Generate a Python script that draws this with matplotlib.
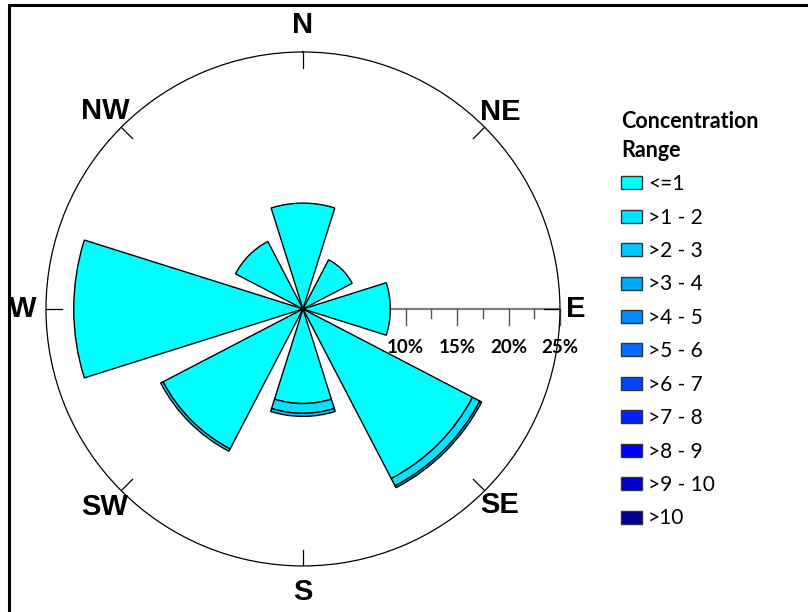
import numpy as np
import matplotlib
matplotlib.use("Agg")
import matplotlib.pyplot as plt
from matplotlib.patches import Patch, Rectangle

# wind directions (degrees clockwise from north)
directions = ["N", "NE", "E", "SE", "S", "SW", "W", "NW"]
dir_angles = [0, 45, 90, 135, 180, 225, 270, 315]

# frequency (%) of each concentration class per direction
ranges = ["<=1", ">1 - 2", ">2 - 3", ">3 - 4", ">4 - 5", ">5 - 6",
          ">6 - 7", ">7 - 8", ">8 - 9", ">9 - 10", ">10"]
freq_le1 = [10.3, 5.4, 8.5, 18.6, 9.2, 15.35, 22.3, 7.4]
freq_1_2 = [0, 0, 0, 0.8, 0.95, 0.25, 0, 0]
freq_2_3 = [0, 0, 0, 0.2, 0.3, 0, 0, 0]
freq_rest = [0] * 8
freqs = [freq_le1, freq_1_2, freq_2_3] + [freq_rest] * 8

colors = ["#00FFFF", "#00E4FF", "#00CCFF", "#00AAFF", "#008CFF", "#006EFF",
          "#0048FF", "#0022FF", "#0000FF", "#0000CC", "#00009A"]

radial_ticks = [10, 12.5, 15, 17.5, 20, 22.5, 25]
radial_labels = {10: "10%", 15: "15%", 20: "20%", 25: "25%"}

RMAX = 25
PX_PER_PCT = 257 / RMAX
label_r = [27.6, 27.1, 26.5, 27.0, 27.5, 27.3, 27.3, 27.2]

fig = plt.figure(figsize=(8.08, 6.12), dpi=100)
ax = fig.add_axes([0.0569, 0.0752, 0.6361, 0.8399], projection="polar")
ax.set_theta_zero_location("N")
ax.set_theta_direction(-1)
ax.set_ylim(0, RMAX)
ax.grid(False)
ax.set_xticks([])
ax.set_yticks([])
ax.spines["polar"].set_linewidth(0.9)

theta = np.deg2rad(dir_angles)
width = np.deg2rad(35)

# radial scale along the east axis
ax.plot([np.pi / 2, np.pi / 2], [0, RMAX], color="#808080", lw=1.6, zorder=1)
for v in radial_ticks:
    d = (16 if v in radial_labels else 9) / PX_PER_PCT
    ax.plot([np.pi / 2, np.pi / 2 + np.arctan(d / v)], [v, np.hypot(v, d)],
            color="#555555", lw=1.0, zorder=1, clip_on=False)
    if v in radial_labels:
        off = 39 / PX_PER_PCT
        ax.text(np.pi / 2 + np.arctan(off / v), np.hypot(v, off), radial_labels[v],
                ha="center", va="center", fontsize=13.5, fontweight="bold",
                family="Lato", zorder=5)

# stacked sectors
bottom = np.zeros(len(directions))
for vals, c in zip(freqs, colors):
    vals = np.array(vals, dtype=float)
    m = vals > 0
    if m.any():
        ax.bar(theta[m], vals[m], width=width, bottom=bottom[m], color=c,
               edgecolor="black", linewidth=1.0, zorder=3)
    bottom += vals

# compass ticks and labels
for ang, name, r in zip(theta, directions, label_r):
    ax.plot([ang, ang], [RMAX - 16 / PX_PER_PCT, RMAX], color="black", lw=0.9, zorder=4)
    ax.text(ang, r, name, ha="center", va="center", fontsize=21,
            fontweight="bold", family=["Liberation Sans", "DejaVu Sans"])

# legend
handles = [Patch(facecolor=c, edgecolor="#333333", linewidth=1.0) for c in colors]
leg = fig.legend(handles, ranges, loc="upper left",
                 bbox_to_anchor=(621 / 808, 1 - 111 / 612), frameon=False,
                 title="Concentration\nRange",
                 title_fontproperties={"family": "Lato", "weight": "bold", "size": 15.5},
                 prop={"family": "Lato", "size": 15}, alignment="left",
                 handlelength=1.0, handleheight=0.58, handletextpad=0.3,
                 labelspacing=0.645, borderpad=0, borderaxespad=0)
leg.get_title().set_linespacing(1.45)

# partial outer frame
fig.add_artist(Rectangle((9 / 808, -0.1), 1.2, 1 - 5 / 612 + 0.1, fill=False,
                         lw=2.2, edgecolor="black", transform=fig.transFigure))

fig.savefig("out.png", dpi=100)
